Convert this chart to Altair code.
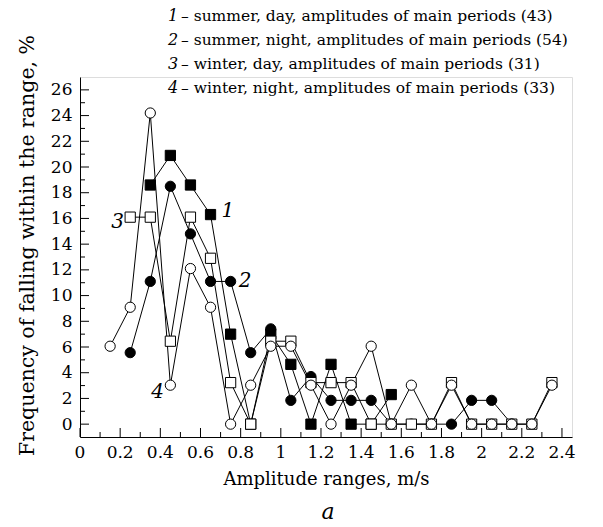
import altair as alt
import pandas as pd

# ---- data ----
s1_x = [0.35, 0.45, 0.55, 0.65, 0.75, 0.85, 0.95, 1.05, 1.15, 1.25, 1.35, 1.45, 1.55]
s1_y = [18.6, 20.9, 18.6, 16.3, 7.0, 0, 7.0, 4.65, 0, 4.65, 0, 0, 2.3]

s2_x = [0.25, 0.35, 0.45, 0.55, 0.65, 0.75, 0.85, 0.95, 1.05, 1.15, 1.25, 1.35, 1.45,
        1.55, 1.65, 1.75, 1.85, 1.95, 2.05, 2.15]
s2_y = [5.56, 11.1, 18.5, 14.8, 11.1, 11.1, 5.56, 7.41, 1.85, 3.7, 1.85, 1.85, 1.85,
        0, 0, 0, 0, 1.85, 1.85, 0]

s3_x = [0.25, 0.35, 0.45, 0.55, 0.65, 0.75, 0.85, 0.95, 1.05, 1.15, 1.25, 1.35, 1.45,
        1.55, 1.65, 1.75, 1.85, 1.95, 2.05, 2.15, 2.25, 2.35]
s3_y = [16.1, 16.1, 6.45, 16.1, 12.9, 3.23, 0, 6.45, 6.45, 3.23, 3.23, 3.23, 0,
        0, 0, 0, 3.23, 0, 0, 0, 0, 3.23]

s4_x = [0.15, 0.25, 0.35, 0.45, 0.55, 0.65, 0.75, 0.85, 0.95, 1.05, 1.15, 1.25, 1.35,
        1.45, 1.55, 1.65, 1.75, 1.85, 1.95, 2.05, 2.15, 2.25, 2.35]
s4_y = [6.06, 9.09, 24.2, 3.03, 12.1, 9.09, 0, 3.03, 6.06, 6.06, 3.03, 0, 3.03,
        6.06, 0, 3.03, 0, 3.03, 0, 0, 0, 0, 3.03]

series_ids = ["1", "2", "3", "4"]
legend_nums = ["1", "2", "3", "4"]
legend_texts = [
    "\u2013 summer, day, amplitudes of main periods (43)",
    "\u2013 summer, night, amplitudes of main periods (54)",
    "\u2013 winter, day, amplitudes of main periods (31)",
    "\u2013 winter, night, amplitudes of main periods (33)",
]

# curve labels placed next to the curves (data coordinates)
curve_label_text = ["1", "2", "3", "4"]
curve_label_x = [0.705, 0.79, 0.155, 0.355]
curve_label_y = [16.6, 11.1, 15.7, 2.5]

x_major = [0, 0.2, 0.4, 0.6, 0.8, 1.0, 1.2, 1.4, 1.6, 1.8, 2.0, 2.2, 2.4]
x_major_labels = ["0", "0.2", "0.4", "0.6", "0.8", "1", "1.2", "1.4", "1.6", "1.8", "2", "2.2", "2.4"]
x_minor = [0.1, 0.3, 0.5, 0.7, 0.9, 1.1, 1.3, 1.5, 1.7, 1.9, 2.1, 2.3]
y_major = [0, 2, 4, 6, 8, 10, 12, 14, 16, 18, 20, 22, 24, 26]
y_minor = [1, 3, 5, 7, 9, 11, 13, 15, 17, 19, 21, 23, 25]

FONT = "DejaVu Serif"
PLOT_W, PLOT_H = 492, 360
MAJOR, MINOR = 9, 5

rows = []
for sid, xs, ys in zip(series_ids, [s1_x, s2_x, s3_x, s4_x], [s1_y, s2_y, s3_y, s4_y]):
    for xv, yv in zip(xs, ys):
        rows.append({"series": sid, "x": xv, "y": yv})
df = pd.DataFrame(rows)

xscale = alt.Scale(domain=[0, 2.45], nice=False, zero=False)
yscale = alt.Scale(domain=[-1, 27], nice=False, zero=False)

x_axis = alt.Axis(
    values=x_major,
    tickCount=len(x_major) - 1,
    labels=False,
    ticks=False,
    tickSize=0,
    grid=False,
    domainColor="black",
    title="Amplitude ranges, m/s",
    titleFont=FONT,
    titleFontSize=18,
    titleFontWeight="normal",
    titleColor="black",
    titleX=PLOT_W / 2,
    titleY=42,
    titleAlign="center",
    titleBaseline="middle",
)
y_axis = alt.Axis(
    values=y_major,
    tickCount=len(y_major),
    ticks=False,
    tickSize=0,
    labelPadding=8,
    grid=False,
    domainColor="black",
    labelColor="black",
    labelFont=FONT,
    labelFontSize=17,
    labelOverlap=False,
    labelFlush=False,
    title="Frequency of falling within the range, %",
    titleFont=FONT,
    titleFontSize=20.5,
    titleFontWeight="normal",
    titleColor="black",
    titleAngle=270,
    titleX=-53,
    titleY=168,
    titleAlign="center",
    titleBaseline="middle",
)

def X(field):
    return alt.X(field, scale=xscale, axis=x_axis)

def Y(field):
    return alt.Y(field, scale=yscale, axis=y_axis)

base = alt.Chart(df)

lines = base.mark_line(color="black", strokeWidth=1).encode(
    x=X("x:Q"), y=Y("y:Q"), detail="series:N", order="x:Q",
)

points = base.mark_point(filled=True, stroke="black", strokeWidth=1, size=105, opacity=1).encode(
    x=X("x:Q"), y=Y("y:Q"),
    fill=alt.Fill("series:N", scale=alt.Scale(domain=series_ids,
                                              range=["black", "black", "white", "white"]), legend=None),
    shape=alt.Shape("series:N", scale=alt.Scale(domain=series_ids,
                                                range=["square", "circle", "square", "circle"]), legend=None),
)

# inward axis ticks (major longer, minor shorter)
def xticks(vals, size):
    return alt.Chart(pd.DataFrame({"x": vals})).mark_tick(
        orient="vertical", size=size, thickness=1, color="black", opacity=1
    ).encode(x=X("x:Q"), y=alt.value(PLOT_H - size / 2))

def yticks(vals, size):
    return alt.Chart(pd.DataFrame({"y": vals})).mark_tick(
        orient="horizontal", size=size, thickness=1, color="black", opacity=1
    ).encode(y=Y("y:Q"), x=alt.value(size / 2))

tick_layers = [xticks(x_major, MAJOR), xticks(x_minor, MINOR),
               yticks(y_major, MAJOR), yticks(y_minor, MINOR)]

# x tick labels
xlab = alt.Chart(pd.DataFrame({"x": x_major, "t": x_major_labels})).mark_text(
    font=FONT, fontSize=17, color="black", align="center", baseline="top"
).encode(x=X("x:Q"), y=alt.value(PLOT_H + 8), text="t:N")

lab_df = pd.DataFrame({"t": curve_label_text, "x": curve_label_x, "y": curve_label_y})
curve_labels = alt.Chart(lab_df).mark_text(
    font=FONT, fontSize=20, fontStyle="italic", color="black", align="left", baseline="middle"
).encode(x=X("x:Q"), y=Y("y:Q"), text="t:N")

layers = [lines, points, curve_labels, xlab] + tick_layers

for i, (n, t) in enumerate(zip(legend_nums, legend_texts)):
    ypix = -61 + 24.0 * i
    num = alt.Chart(pd.DataFrame({"t": [n]})).mark_text(
        font=FONT, fontSize=16, fontStyle="italic", color="black", align="left", baseline="middle"
    ).encode(text="t:N", x=alt.value(88), y=alt.value(ypix))
    txt = alt.Chart(pd.DataFrame({"t": [t]})).mark_text(
        font=FONT, fontSize=15.5, color="black", align="left", baseline="middle"
    ).encode(text="t:N", x=alt.value(101), y=alt.value(ypix))
    layers += [num, txt]

sub = alt.Chart(pd.DataFrame({"t": ["a"]})).mark_text(
    font=FONT, fontSize=22, fontStyle="italic", color="black", align="center", baseline="middle"
).encode(text="t:N", x=alt.value(248), y=alt.value(435))
layers.append(sub)

chart = alt.layer(*layers).properties(
    width=PLOT_W,
    height=PLOT_H,
    autosize=alt.AutoSizeParams(type="none"),
    padding={"left": 80, "top": 77, "right": 31, "bottom": 90},
).configure_view(stroke=None).configure(background="white")

chart.save("out.html", embed_options={"renderer": "svg", "actions": False})
